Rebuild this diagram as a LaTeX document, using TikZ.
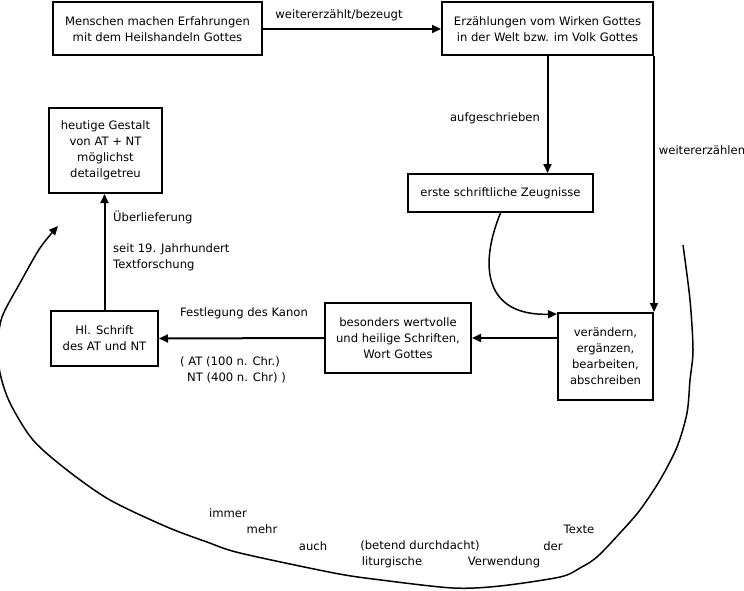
\documentclass[tikz,border=0pt]{standalone}
\usepackage{fontspec}
\setmainfont{DejaVu Sans}
\usepackage{tikz}
\usetikzlibrary{arrows.meta,positioning}

\begin{document}
\begin{tikzpicture}[
    x=1pt, y=-1pt,
    kasten/.style={rectangle, draw=black, line width=2pt, align=center, inner sep=0pt,
                font=\fontsize{11.6}{16}\selectfont},
    beschr/.style={inner sep=0pt, align=left, font=\fontsize{11.6}{16}\selectfont},
    pfeil/.style={-{Triangle[length=9pt,width=8pt]}, line width=2pt},
    bogen/.style={-{Triangle[length=9pt,width=8pt]}, line width=1.5pt}]
\useasboundingbox (0,0) rectangle (744,591);
\node[kasten, minimum width=209pt, minimum height=53pt] (erfahrung) at (157.5,29) {Menschen machen Erfahrungen\\mit dem Heilshandeln Gottes};
\node[kasten, minimum width=211pt, minimum height=53pt] (erzaehlung) at (547.5,29) {Erzählungen vom Wirken Gottes\\in der Welt bzw. im Volk Gottes};
\node[kasten, minimum width=113pt, minimum height=85pt] (heute) at (105.5,150.5) {heutige Gestalt\\von AT + NT\\möglichst\\detailgetreu};
\node[kasten, minimum width=185pt, minimum height=38pt] (zeugnisse) at (500.5,193) {erste schriftliche Zeugnisse};
\node[kasten, minimum width=107pt, minimum height=55pt] (schrift) at (104.5,338.5) {Hl. Schrift\\des AT und NT};
\node[kasten, minimum width=146pt, minimum height=70pt] (wertvoll) at (398,338) {besonders wertvolle\\und heilige Schriften,\\Wort Gottes};
\node[kasten, minimum width=95pt, minimum height=87pt] (veraendern) at (605.5,356.5) {verändern,\\ergänzen,\\bearbeiten,\\abschreiben};
\node[beschr] (l1) at (339,15) {weitererzählt/bezeugt};
\node[beschr] (l2) at (495,118) {aufgeschrieben};
\node[beschr] (l3) at (702,150) {weitererzählen};
\node[beschr, anchor=west] (l4) at (113,217) {Überlieferung};
\node[beschr, anchor=west] (l5) at (113,257) {seit 19. Jahrhundert\\Textforschung};
\node[beschr] (l6) at (244,313) {Festlegung des Kanon};
\node[beschr, anchor=west] (l7) at (180,362) {( AT (100 n. Chr.)};
\node[beschr, anchor=west] (l8) at (187,378) {NT (400 n. Chr) )};
\node[beschr] (w1) at (228,513) {immer};
\node[beschr] (w2) at (262,529) {mehr};
\node[beschr] (w3) at (313,546) {auch};
\node[beschr] (w4) at (420,546) {(betend durchdacht)};
\node[beschr] (w5) at (392,562) {liturgische};
\node[beschr] (w6) at (504,562) {Verwendung};
\node[beschr] (w7) at (553,546) {der};
\node[beschr] (w8) at (579,529) {Texte};
\coordinate (kreisA) at (683,245);
\coordinate (kreisE) at (58,226);
\coordinate (bogenE) at (557,314);
\draw[pfeil] (erfahrung.east) -- (erzaehlung.west);
\draw[pfeil] (erzaehlung.south) -- (erzaehlung.south |- zeugnisse.north);
\draw[pfeil] (erzaehlung.south east) -- (veraendern.north east);
\draw[pfeil] (veraendern.west |- wertvoll.east) -- (wertvoll.east);
\draw[pfeil] (wertvoll.west) -- (schrift.east);
\draw[pfeil] (schrift.north) -- (schrift.north |- heute.south);
\draw[bogen] (zeugnisse.south) .. controls (478,268) and (486,316) .. (bogenE);
\draw[bogen] plot[smooth, tension=0.5] coordinates {(kreisA) (690,300) (693,350) (690,380) (687,413) (677,447) (660,480) (640,510) (620,533) (597,557) (580,568) (560,577) (500,586) (453,588) (381,580) (334,573) (240,553) (207,542) (167,527) (110,500) (67,470) (33,440) (10,403) (0,373) (-2,345) (2,317) (20,283) (40,248) (kreisE)};
\end{tikzpicture}
\end{document}
